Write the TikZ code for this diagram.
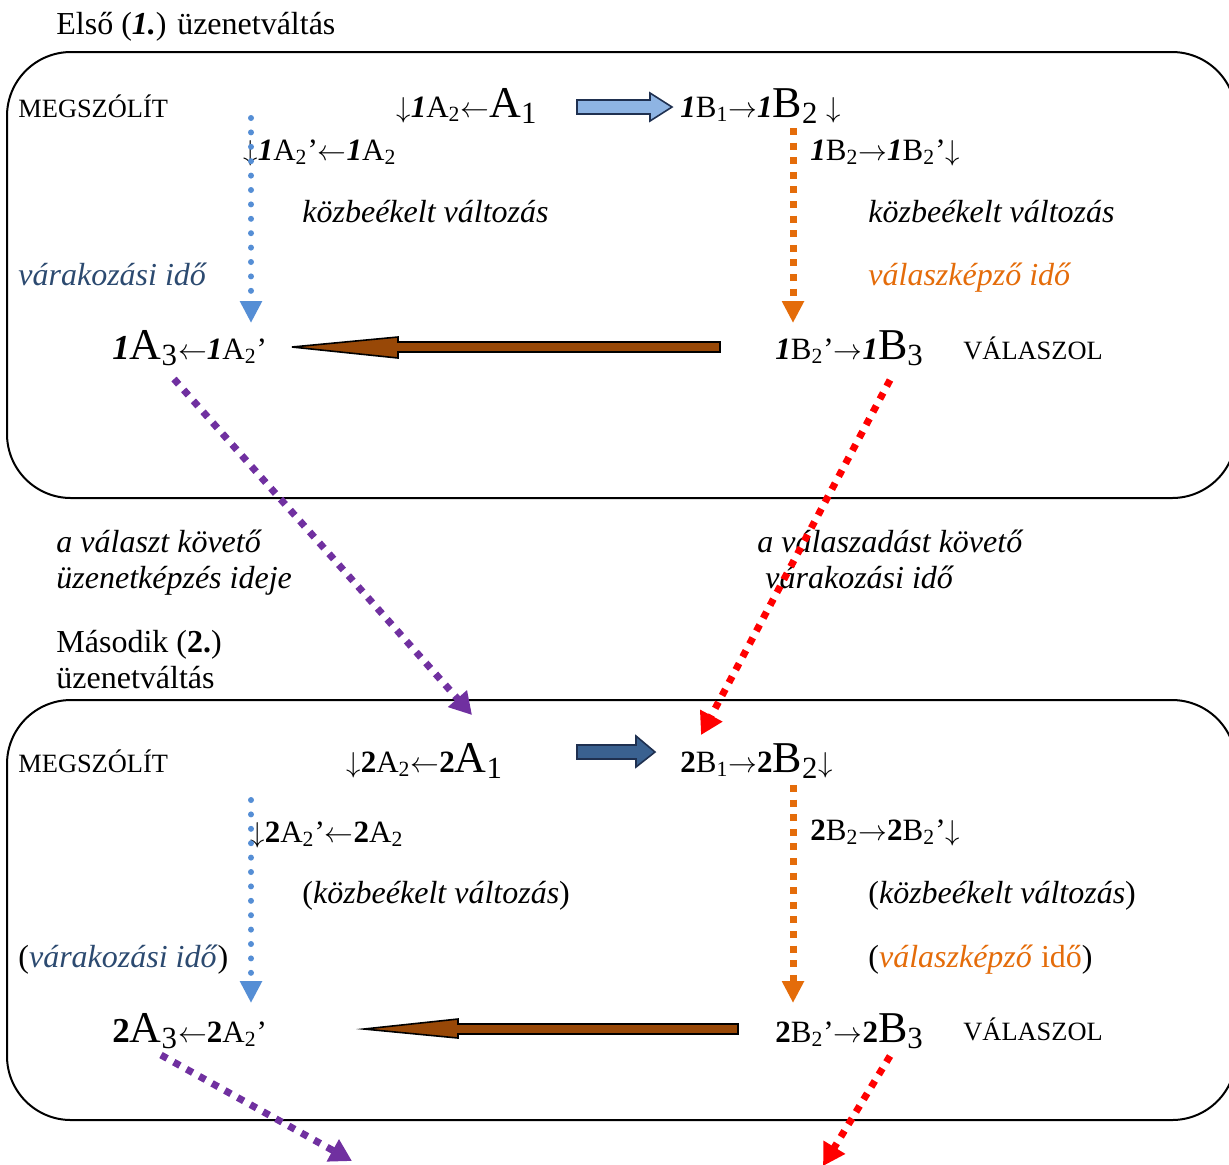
\documentclass[tikz,border=0pt]{standalone}
\usepackage{fontspec}
\setmainfont{Liberation Serif}
\usetikzlibrary{arrows.meta, positioning, calc}
\definecolor{dotblue}{HTML}{558ED5}
\definecolor{dotorange}{HTML}{E46C0A}
\definecolor{dotpurple}{HTML}{7030A0}
\definecolor{dotred}{HTML}{FF0000}
\definecolor{brownarr}{HTML}{984807}
\definecolor{lightarr}{HTML}{8EB4E3}
\definecolor{darkarr}{HTML}{3A6190}
\definecolor{inkline}{HTML}{1F3050}
\definecolor{waitblue}{HTML}{2C4A70}

\newcommand{\fs}{\fontsize{15.5}{18}\selectfont}
\newcommand{\fb}{\fontsize{22}{26}\selectfont}
\newcommand{\bi}[1]{\textbf{\textit{#1}}}
\newcommand{\sub}[1]{\textsubscript{#1}}
\newcommand{\arl}{$\leftarrow$}
\newcommand{\arr}{$\rightarrow$}
\newcommand{\ard}{$\downarrow$}

\tikzset{
  lbl/.style={anchor=base west, inner sep=0pt, font=\fontsize{16}{19}\selectfont},
  note/.style={lbl, font=\fontsize{16}{19}\selectfont\itshape},
  role/.style={anchor=base west, inner sep=0pt, font=\fontsize{13.2}{16}\selectfont},
  frm/.style={anchor=base west, inner sep=0pt, font=\fs},
  phase/.style={draw, line width=1pt, rounded corners=32pt},
  fat/.style={draw=inkline, line width=0.8pt},
  bluedots/.style={dotblue, line width=3pt, line cap=round, dash pattern=on 0pt off 7.2pt,
    -{Triangle[width=10.5pt,length=11pt]}},
  orangedots/.style={dotorange, line width=3.5pt, dash pattern=on 3.5pt off 3.8pt,
    -{Triangle[width=10.5pt,length=11pt]}},
  diagdots/.style={line width=3.5pt, dash pattern=on 3.5pt off 3.8pt,
    -{Triangle[width=12pt,length=11pt]}}
}

\begin{document}
\begin{tikzpicture}[x=0.5pt, y=-0.5pt]
  \useasboundingbox (0,0) rectangle (1229,1164);

  % first exchange
  \node[lbl] (head1) at (56,34) {Első (\bi{1.}) üzenetváltás};
  \draw[phase] (7,52) rectangle (1236,498);
  \node[role] (call1) at (18,117) {MEGSZÓLÍT};
  \node[frm] (a12) at (396,117) {\ard\bi{1}A\sub{2}\arl{\fb A\sub{1}}};
  \node[frm] (b12) at (680,117) {\bi{1}B\sub{1}\arr\bi{1}{\fb B\sub{2}} \ard};
  \node[frm] (a12p) at (243,160) {\ard\bi{1}A\sub{2}’\arl\bi{1}A\sub{2}};
  \node[frm] (b12p) at (810,160) {\bi{1}B\sub{2}\arr\bi{1}B\sub{2}’\ard};
  \node[note] (mid1a) at (302,222) {közbeékelt változás};
  \node[note] (mid1b) at (868,222) {közbeékelt változás};
  \node[note, text=waitblue] (wait1) at (18,285) {várakozási idő};
  \node[note, text=dotorange] (form1) at (868,285) {válaszképző idő};
  \node[frm] (a13) at (112,359) {{\fontsize{17.5}{21}\selectfont\bi{1}}{\fb A\sub{3}}\arl\bi{1}A\sub{2}’};
  \node[frm] (b13) at (775,359) {\bi{1}B\sub{2}’\arr\bi{1}{\fb B\sub{3}}};
  \node[role] (ans1) at (963,359) {VÁLASZOL};

  % block arrows
  \filldraw[fat, fill=lightarr] (577,100) -- (650,100) -- (650,93) -- (672,107)
    -- (650,121) -- (650,114) -- (577,114) -- cycle;
  \filldraw[fat, draw=black, fill=brownarr] (720,342) -- (398,342) -- (398,337) -- (292,347)
    -- (398,358) -- (398,352) -- (720,352) -- cycle;

  % dotted time lines
  \coordinate (w1s) at (251,118);
  \coordinate (w1e) at (251,323);
  \coordinate (f1s) at (793,128);
  \coordinate (f1e) at (793,323);
  \draw[bluedots] (w1s) -- (w1e);
  \draw[orangedots] (f1s) -- (f1e);

  % between the two exchanges
  \node[note] (follow1) at (56,552) {a választ követő};
  \node[note] (follow2) at (56,588) {üzenetképzés ideje};
  \node[note] (after1) at (757,552) {a válaszadást követő};
  \node[note] (after2) at (765,588) {várakozási idő};
  \node[lbl] (head2a) at (56,652) {Második (\textbf{2.})};
  \node[lbl] (head2b) at (56,688) {üzenetváltás};

  % second exchange
  \draw[phase] (7,700) rectangle (1236,1120);
  \node[role] (call2) at (18,772) {MEGSZÓLÍT};
  \node[frm] (a22) at (346,772) {\ard\textbf{2}A\sub{2}\arl\textbf{2}{\fb A\sub{1}}};
  \node[frm] (b22) at (680,772) {\textbf{2}B\sub{1}\arr\textbf{2}{\fb B\sub{2}}\ard};
  \node[frm] (a22p) at (250,842) {\ard\textbf{2}A\sub{2}’\arl\textbf{2}A\sub{2}};
  \node[frm] (b22p) at (810,840) {\textbf{2}B\sub{2}\arr\textbf{2}B\sub{2}’\ard};
  \node[lbl] (mid2a) at (302,903) {(\textit{közbeékelt változás})};
  \node[lbl] (mid2b) at (868,903) {(\textit{közbeékelt változás})};
  \node[lbl] (wait2) at (18,967) {(\textcolor{waitblue}{\textit{várakozási idő}})};
  \node[lbl] (form2) at (868,967) {(\textcolor{dotorange}{\textit{válaszképző} idő})};
  \node[frm] (a23) at (112,1042) {{\fontsize{17.5}{21}\selectfont\textbf{2}}{\fb A\sub{3}}\arl\textbf{2}A\sub{2}’};
  \node[frm] (b23) at (775,1042) {\textbf{2}B\sub{2}’\arr\textbf{2}{\fb B\sub{3}}};
  \node[role] (ans2) at (963,1040) {VÁLASZOL};

  \filldraw[fat, fill=darkarr] (577,745) -- (636,745) -- (636,736) -- (655,752)
    -- (636,767) -- (636,759) -- (577,759) -- cycle;
  \filldraw[fat, draw=black, fill=brownarr] (738,1024) -- (458,1024) -- (458,1019) -- (364,1029)
    -- (458,1038) -- (458,1034) -- (738,1034) -- cycle;

  \coordinate (w2s) at (251,800);
  \coordinate (w2e) at (251,1003);
  \coordinate (f2s) at (793,785);
  \coordinate (f2e) at (793,1003);
  \draw[bluedots] (w2s) -- (w2e);
  \draw[orangedots] (f2s) -- (f2e);

  % hand-over to the next exchange
  \coordinate (p1s) at (174,379);
  \coordinate (p1e) at (472,715);
  \coordinate (r1s) at (890,380);
  \coordinate (r1e) at (701,735);
  \coordinate (p2s) at (161,1055);
  \coordinate (p2e) at (352,1161);
  \coordinate (r2s) at (890,1056);
  \coordinate (r2e) at (823,1166);
  \draw[diagdots, dotpurple] (p1s) -- (p1e);
  \draw[diagdots, dotred] (r1s) -- (r1e);
  \draw[diagdots, dotpurple] (p2s) -- (p2e);
  \draw[diagdots, dotred] (r2s) -- (r2e);
\end{tikzpicture}
\end{document}
